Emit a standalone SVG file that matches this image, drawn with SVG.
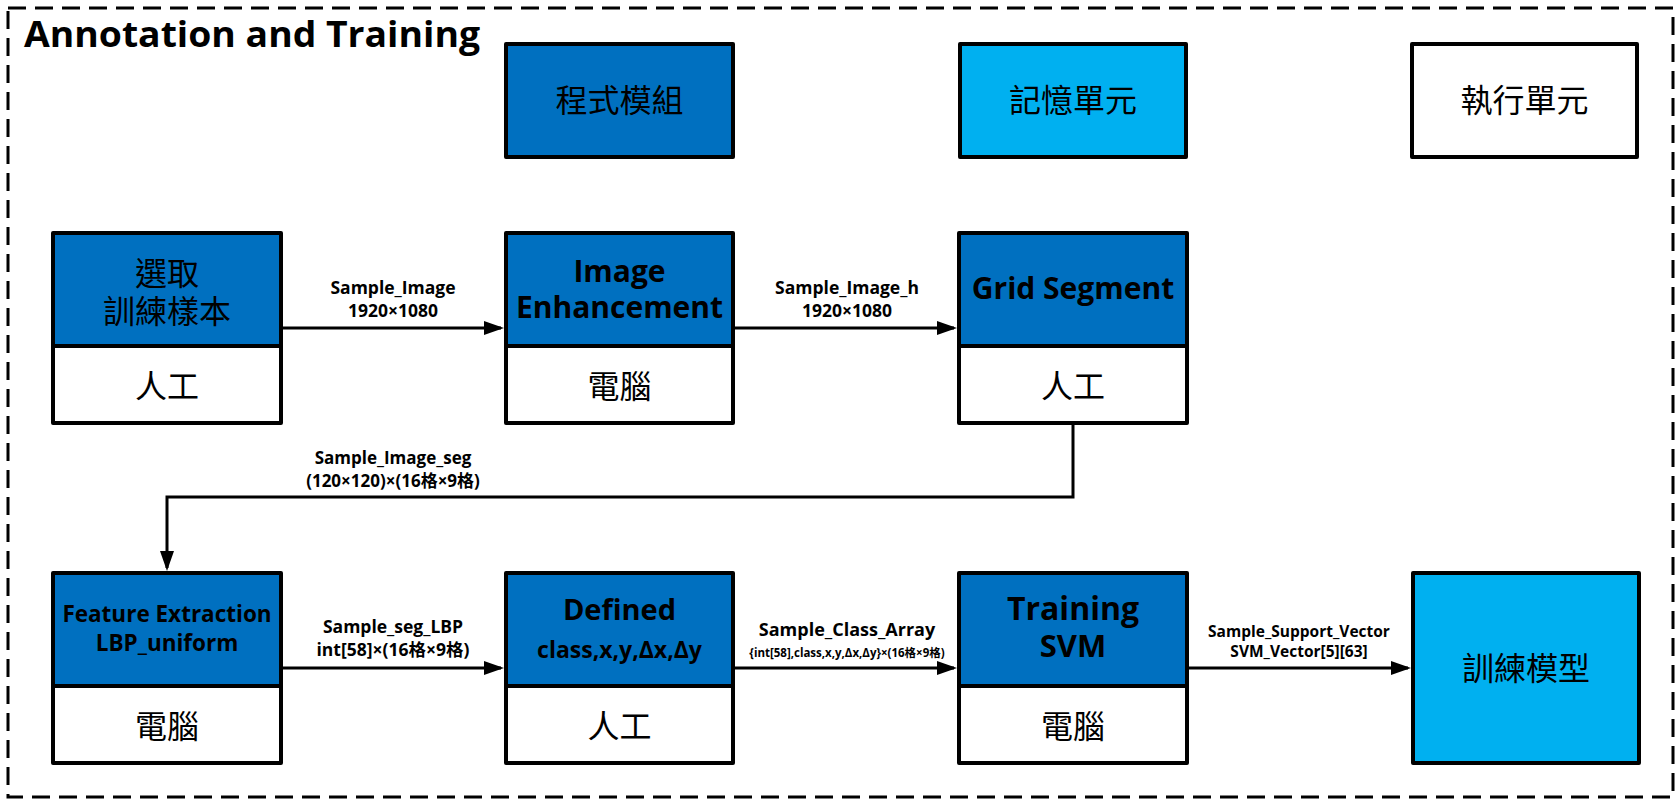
<svg xmlns="http://www.w3.org/2000/svg" width="1680" height="802" viewBox="0 0 1680 802">
<style>
.bx{stroke:#000;stroke-width:4;stroke-linejoin:round}
.dk{fill:#0070C0}
.lt{fill:#00B0F0}
.wh{fill:#fff}
.cj{font-family:"Noto Sans CJK TC","Noto Sans CJK SC",sans-serif;font-size:32px;fill:#000;text-anchor:middle}
.nt{font-family:"Open Sans","Lato",sans-serif;font-weight:700;fill:#000;text-anchor:middle}
.lb{font-family:"Open Sans","Lato","Noto Sans CJK TC",sans-serif;font-weight:700;fill:#000;text-anchor:middle}
.cn{fill:none;stroke:#000;stroke-width:3;marker-end:url(#ah)}
</style>
<defs>
<marker id="ah" markerUnits="userSpaceOnUse" markerWidth="20" markerHeight="14" refX="17" refY="7" orient="auto">
<path d="M0,0 L20,7 L0,14 Z" fill="#000"/>
</marker>
</defs>
<rect x="8" y="8" width="1665" height="789" fill="none" stroke="#000" stroke-width="3" stroke-dasharray="18,9"/>
<text x="24" y="47" font-family="Open Sans, Lato, sans-serif" font-weight="700" font-size="36" textLength="456" lengthAdjust="spacingAndGlyphs">Annotation and Training</text>

<g id="legend-module"><rect class="bx dk" x="506" y="44" width="227" height="113"/><text class="cj" x="619.5" y="112">程式模組</text></g>
<g id="legend-memory"><rect class="bx lt" x="960" y="44" width="226" height="113"/><text class="cj" x="1073" y="112">記憶單元</text></g>
<g id="legend-exec"><rect class="bx wh" x="1412" y="44" width="225" height="113"/><text class="cj" x="1524.5" y="112">執行單元</text></g>

<g id="n-select">
<rect class="bx dk" x="53" y="233" width="228" height="113"/>
<rect class="bx wh" x="53" y="346" width="228" height="77"/>
<text class="cj" x="167" y="285">選取</text>
<text class="cj" x="167" y="323">訓練樣本</text>
<text class="cj" x="167" y="398">人工</text>
</g>
<g id="n-enhance">
<rect class="bx dk" x="506" y="233" width="227" height="113"/>
<rect class="bx wh" x="506" y="346" width="227" height="77"/>
<text class="nt" x="619.5" y="282" font-size="30">Image</text>
<text class="nt" x="619.5" y="318" font-size="30">Enhancement</text>
<text class="cj" x="619.5" y="398">電腦</text>
</g>
<g id="n-grid">
<rect class="bx dk" x="959" y="233" width="228" height="113"/>
<rect class="bx wh" x="959" y="346" width="228" height="77"/>
<text class="nt" x="1073" y="299" font-size="30">Grid Segment</text>
<text class="cj" x="1073" y="398">人工</text>
</g>
<g id="n-feature">
<rect class="bx dk" x="53" y="573" width="228" height="113"/>
<rect class="bx wh" x="53" y="686" width="228" height="77"/>
<text class="nt" x="167" y="622" font-size="22.5">Feature Extraction</text>
<text class="nt" x="167" y="651" font-size="22.5">LBP_uniform</text>
<text class="cj" x="167" y="738">電腦</text>
</g>
<g id="n-defined">
<rect class="bx dk" x="506" y="573" width="227" height="113"/>
<rect class="bx wh" x="506" y="686" width="227" height="77"/>
<text class="nt" x="619.5" y="620" font-size="29">Defined</text>
<text class="nt" x="619.5" y="658" font-size="23">class,x,y,Δx,Δy</text>
<text class="cj" x="619.5" y="738">人工</text>
</g>
<g id="n-svm">
<rect class="bx dk" x="959" y="573" width="228" height="113"/>
<rect class="bx wh" x="959" y="686" width="228" height="77"/>
<text class="nt" x="1073" y="620" font-size="32">Training</text>
<text class="nt" x="1073" y="657" font-size="31">SVM</text>
<text class="cj" x="1073" y="738">電腦</text>
</g>
<g id="n-model">
<rect class="bx lt" x="1413" y="573" width="226" height="190"/>
<text class="cj" x="1526" y="680">訓練模型</text>
</g>

<g id="connectors">
<path class="cn" d="M281,328 H501"/>
<path class="cn" d="M733,328 H954"/>
<path class="cn" d="M1073,423 V497 H167 V568"/>
<path class="cn" d="M281,668 H501"/>
<path class="cn" d="M733,668 H954"/>
<path class="cn" d="M1187,668 H1408"/>
<text class="lb" x="393" y="294" font-size="17.5">Sample_Image</text>
<text class="lb" x="393" y="317" font-size="17.5">1920×1080</text>
<text class="lb" x="847" y="294" font-size="17.5">Sample_Image_h</text>
<text class="lb" x="847" y="317" font-size="17.5">1920×1080</text>
<text class="lb" x="393" y="464" font-size="17">Sample_Image_seg</text>
<text class="lb" x="393" y="487" font-size="17">(120×120)×(16格×9格)</text>
<text class="lb" x="393" y="633" font-size="17.5">Sample_seg_LBP</text>
<text class="lb" x="393" y="656" font-size="17.5">int[58]×(16格×9格)</text>
<text class="lb" x="847" y="636" font-size="18">Sample_Class_Array</text>
<text class="lb" x="847" y="657" font-size="11.5">{int[58],class,x,y,Δx,Δy}×(16格×9格)</text>
<text class="lb" x="1299" y="637" font-size="15.5">Sample_Support_Vector</text>
<text class="lb" x="1299" y="657" font-size="15.5">SVM_Vector[5][63]</text>
</g>
</svg>
